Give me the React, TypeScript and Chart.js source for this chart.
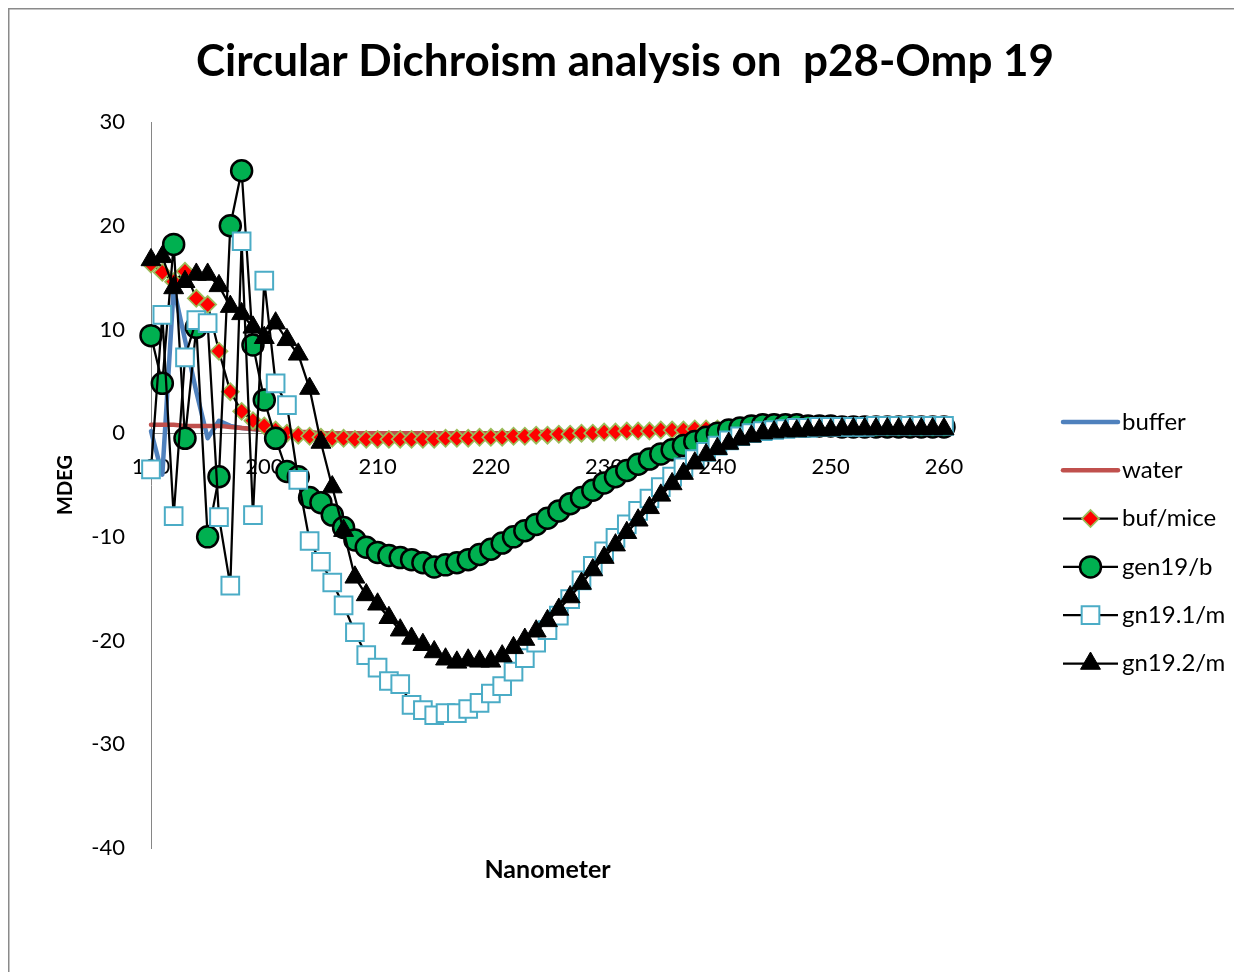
import React, { useEffect, useRef } from 'react';
import { Chart, registerables } from 'chart.js';

Chart.register(...registerables);

const wavelengths = [
  190, 191, 192, 193, 194, 195, 196, 197, 198, 199,
  200, 201, 202, 203, 204, 205, 206, 207, 208, 209,
  210, 211, 212, 213, 214, 215, 216, 217, 218, 219,
  220, 221, 222, 223, 224, 225, 226, 227, 228, 229,
  230, 231, 232, 233, 234, 235, 236, 237, 238, 239,
  240, 241, 242, 243, 244, 245, 246, 247, 248, 249,
  250, 251, 252, 253, 254, 255, 256, 257, 258, 259,
  260,
];

const buffer = [
  0.2, -4.0, 14.0, 9.0, 4.0, -0.5, 1.2, 0.7, 0.5, 0.4,
  0.3, 0.2, 0.1, 0.0, -0.1, -0.1, -0.2, -0.2, -0.2, -0.2,
  -0.2, -0.2, -0.2, -0.2, -0.2, -0.2, -0.2, -0.1, -0.1, -0.1,
  -0.1, -0.1, 0.0, 0.0, 0.0, 0.0, 0.0, 0.1, 0.1, 0.1,
  0.1, 0.1, 0.2, 0.2, 0.2, 0.2, 0.2, 0.3, 0.3, 0.3,
  0.3, 0.3, 0.3, 0.3, 0.4, 0.4, 0.4, 0.4, 0.4, 0.4,
  0.4, 0.4, 0.4, 0.4, 0.4, 0.4, 0.4, 0.4, 0.4, 0.4,
  0.4,
];

const water = [
  0.8, 0.8, 0.8, 0.7, 0.7, 0.7, 0.7, 0.6, 0.5, 0.4,
  0.3, 0.2, 0.1, 0.1, 0.1, 0.0, 0.0, 0.0, 0.0, 0.0,
  0.0, 0.0, 0.0, 0.0, 0.0, 0.0, 0.0, 0.0, 0.0, 0.0,
  0.0, 0.0, 0.0, 0.0, 0.1, 0.1, 0.1, 0.1, 0.1, 0.1,
  0.1, 0.1, 0.1, 0.1, 0.1, 0.2, 0.2, 0.2, 0.2, 0.2,
  0.2, 0.2, 0.2, 0.2, 0.2, 0.2, 0.2, 0.2, 0.2, 0.2,
  0.2, 0.2, 0.2, 0.2, 0.2, 0.2, 0.2, 0.2, 0.2, 0.2,
  0.2,
];

const bufMice = [
  16.3, 15.5, 14.6, 15.6, 13.0, 12.4, 7.9, 4.0, 2.1, 1.2,
  0.7, 0.3, 0.0, -0.2, -0.3, -0.4, -0.5, -0.5, -0.6, -0.6,
  -0.6, -0.6, -0.6, -0.6, -0.6, -0.6, -0.5, -0.5, -0.5, -0.4,
  -0.4, -0.4, -0.3, -0.3, -0.2, -0.2, -0.1, -0.1, 0.0, 0.0,
  0.1, 0.1, 0.2, 0.2, 0.2, 0.3, 0.3, 0.3, 0.4, 0.4,
  0.4, 0.4, 0.5, 0.5, 0.5, 0.5, 0.5, 0.5, 0.5, 0.5,
  0.5, 0.5, 0.5, 0.5, 0.5, 0.5, 0.5, 0.5, 0.5, 0.5,
  0.5,
];

const gen19b = [
  9.4, 4.8, 18.2, -0.5, 10.2, -10.0, -4.2, 20.0, 25.3, 8.5,
  3.2, -0.5, -3.7, -4.2, -6.2, -6.7, -7.9, -9.1, -10.3, -11.0,
  -11.5, -11.8, -12.0, -12.2, -12.5, -12.9, -12.7, -12.5, -12.2, -11.7,
  -11.2, -10.6, -10.0, -9.4, -8.8, -8.2, -7.5, -6.8, -6.2, -5.5,
  -4.8, -4.2, -3.6, -3.0, -2.5, -2.0, -1.6, -1.2, -0.8, -0.4,
  0.0, 0.3, 0.5, 0.7, 0.8, 0.8, 0.8, 0.8, 0.7, 0.7,
  0.7, 0.6, 0.6, 0.6, 0.6, 0.6, 0.6, 0.6, 0.6, 0.6,
  0.6,
];

const gn191m = [
  -3.5, 11.4, -8.0, 7.3, 10.9, 10.6, -8.1, -14.7, 18.5, -7.9,
  14.7, 4.8, 2.7, -4.5, -10.4, -12.4, -14.4, -16.6, -19.2, -21.4,
  -22.6, -23.9, -24.2, -26.2, -26.7, -27.2, -27.0, -27.0, -26.6, -26.0,
  -25.1, -24.4, -23.0, -21.7, -20.2, -19.0, -17.6, -16.0, -14.2, -12.8,
  -11.4, -10.1, -8.8, -7.5, -6.3, -5.2, -4.2, -3.3, -2.5, -1.8,
  -1.2, -0.7, -0.3, 0.0, 0.2, 0.3, 0.4, 0.5, 0.5, 0.6,
  0.6, 0.6, 0.6, 0.6, 0.7, 0.7, 0.7, 0.7, 0.7, 0.7,
  0.7,
];

const gn192m = [
  16.7, 17.0, 14.0, 14.6, 15.3, 15.3, 14.2, 12.2, 11.5, 10.2,
  9.2, 10.6, 9.0, 7.6, 4.3, -0.9, -5.2, -9.4, -13.9, -15.6,
  -16.5, -17.8, -19.0, -19.8, -20.4, -21.1, -21.8, -22.1, -21.9, -22.0,
  -22.0, -21.5, -20.7, -19.9, -19.1, -18.1, -17.0, -15.8, -14.5, -13.2,
  -12.0, -10.8, -9.6, -8.4, -7.2, -6.0, -4.9, -3.9, -2.9, -2.1,
  -1.5, -1.0, -0.6, -0.3, 0.0, 0.1, 0.2, 0.2, 0.3, 0.3,
  0.3, 0.4, 0.4, 0.4, 0.4, 0.4, 0.4, 0.4, 0.4, 0.4,
  0.4,
];

const seriesNames = ['buffer', 'water', 'buf/mice', 'gen19/b', 'gn19.1/m', 'gn19.2/m'];
const xTicks = [190, 200, 210, 220, 230, 240, 250, 260];
const yTicks = [-40, -30, -20, -10, 0, 10, 20, 30];

const FONT = 'Lato, "Open Sans", "DejaVu Sans", sans-serif';

const toPoints = (vals: number[]) => wavelengths.map((x, i) => ({ x, y: vals[i] }));

function drawMarker(ctx: CanvasRenderingContext2D, ds: any, x: number, y: number) {
  const style = ds.pointStyle;
  const r = ds.pointRadius;
  ctx.save();
  ctx.beginPath();
  if (style === 'circle') {
    ctx.arc(x, y, r, 0, Math.PI * 2);
  } else if (style === 'rect') {
    const s = Math.SQRT1_2 * r;
    ctx.rect(x - s, y - s, 2 * s, 2 * s);
  } else if (style === 'rectRot') {
    ctx.moveTo(x - r, y);
    ctx.lineTo(x, y - r);
    ctx.lineTo(x + r, y);
    ctx.lineTo(x, y + r);
    ctx.closePath();
  } else if (style === 'triangle') {
    const a = (2 * Math.PI) / 3;
    ctx.moveTo(x, y - r);
    ctx.lineTo(x + Math.sin(a) * r, y - Math.cos(a) * r);
    ctx.lineTo(x + Math.sin(2 * a) * r, y - Math.cos(2 * a) * r);
    ctx.closePath();
  }
  ctx.fillStyle = ds.pointBackgroundColor;
  ctx.fill();
  ctx.lineWidth = ds.pointBorderWidth;
  ctx.strokeStyle = ds.pointBorderColor;
  ctx.stroke();
  ctx.restore();
}

const framePlugin = {
  id: 'frame',
  beforeDraw(chart: any) {
    const { ctx, width, height } = chart;
    ctx.save();
    ctx.fillStyle = '#ffffff';
    ctx.fillRect(0, 0, width, height);
    ctx.strokeStyle = '#8a8a8a';
    ctx.lineWidth = 1.5;
    ctx.beginPath();
    ctx.moveTo(0.75, height);
    ctx.lineTo(0.75, 0.75);
    ctx.lineTo(width, 0.75);
    ctx.stroke();
    ctx.restore();
  },
};

const legendPlugin = {
  id: 'customLegend',
  afterDraw(chart: any) {
    const { ctx, chartArea } = chart;
    const x1 = chartArea.right + 119;
    const x2 = x1 + 55;
    const tx = x2 + 4;
    const y0 = 414;
    const gap = 48.3;
    ctx.save();
    chart.data.datasets.forEach((ds: any, i: number) => {
      const y = y0 + i * gap;
      ctx.beginPath();
      ctx.moveTo(x1, y);
      ctx.lineTo(x2, y);
      ctx.strokeStyle = ds.borderColor;
      ctx.lineWidth = ds.borderWidth;
      ctx.lineCap = ds.pointRadius ? 'butt' : 'round';
      ctx.stroke();
      if (ds.pointRadius) drawMarker(ctx, ds, (x1 + x2) / 2, y);
      ctx.fillStyle = '#000000';
      ctx.font = `24px ${FONT}`;
      ctx.textBaseline = 'middle';
      ctx.textAlign = 'left';
      ctx.fillText(ds.label, tx, y);
    });
    ctx.restore();
  },
};

const CW = 1234;
const CH = 964;

export default function App() {
  const canvasRef = useRef<HTMLCanvasElement | null>(null);

  useEffect(() => {
    document.documentElement.style.overflow = 'hidden';
    document.body.style.overflow = 'hidden';
    const canvas = canvasRef.current;
    if (!canvas) return;
    const lineBase = { borderColor: '#000000', borderWidth: 2.25, clip: false as any, tension: 0 };
    const chart = new Chart(canvas, {
      type: 'line',
      data: {
        datasets: [
          { label: seriesNames[0], data: toPoints(buffer), borderColor: '#4F81BD', borderWidth: 4.5, pointRadius: 0, clip: false as any, order: 5, borderCapStyle: 'round', borderJoinStyle: 'round' },
          { label: seriesNames[1], data: toPoints(water), borderColor: '#C0504D', borderWidth: 4.5, pointRadius: 0, clip: false as any, order: 4, borderCapStyle: 'round', borderJoinStyle: 'round' },
          { label: seriesNames[2], data: toPoints(bufMice), ...lineBase, pointStyle: 'rectRot', pointRadius: 8.5, pointBackgroundColor: '#FF0000', pointBorderColor: '#9BBB59', pointBorderWidth: 1.75, order: 3 },
          { label: seriesNames[3], data: toPoints(gen19b), ...lineBase, pointStyle: 'circle', pointRadius: 10.5, pointBackgroundColor: '#00B050', pointBorderColor: '#000000', pointBorderWidth: 2.5, order: 2 },
          { label: seriesNames[4], data: toPoints(gn191m), ...lineBase, pointStyle: 'rect', pointRadius: 12.5, pointBackgroundColor: '#FFFFFF', pointBorderColor: '#4BACC6', pointBorderWidth: 2, order: 1 },
          { label: seriesNames[5], data: toPoints(gn192m), ...lineBase, pointStyle: 'triangle', pointRadius: 11.5, pointBackgroundColor: '#000000', pointBorderColor: '#000000', pointBorderWidth: 1, order: 0 },
        ] as any,
      },
      options: {
        responsive: false,
        animation: false,
        devicePixelRatio: 1,
        layout: { padding: { left: 0, right: 0, top: 0, bottom: 87 } },
        plugins: {
          legend: { display: false },
          tooltip: { enabled: false },
          title: {
            display: true,
            text: 'Circular Dichroism analysis on  p28-Omp 19',
            color: '#000000',
            font: { family: FONT, size: 44, weight: 'bold' },
            padding: { top: 27.6, bottom: 33.6 },
          },
        },
        scales: {
          x: {
            type: 'linear',
            position: { y: 0 } as any,
            min: 190,
            max: 260,
            afterBuildTicks: (s: any) => { s.ticks = xTicks.map((v) => ({ value: v })); },
            ticks: { color: '#000000', font: { family: FONT, size: 22 }, padding: 21, maxRotation: 0, autoSkip: false },
            grid: { display: false, drawTicks: false },
            border: { display: true, color: '#868686', width: 1 },
          },
          x2: {
            type: 'linear',
            position: 'bottom',
            min: 190,
            max: 260,
            ticks: { display: false },
            grid: { display: false, drawTicks: false },
            border: { display: false },
            title: { display: true, text: 'Nanometer', color: '#000000', font: { family: FONT, size: 25, weight: 'bold' }, padding: { top: 7, bottom: 0 } },
          },
          y: {
            type: 'linear',
            position: 'left',
            min: -40,
            max: 30,
            afterBuildTicks: (s: any) => { s.ticks = yTicks.map((v) => ({ value: v })); },
            ticks: { color: '#000000', font: { family: FONT, size: 22 }, padding: 26 },
            grid: { display: false, drawTicks: false },
            border: { display: true, color: '#868686', width: 1 },
            title: { display: true, text: 'MDEG', color: '#000000', font: { family: FONT, size: 20, weight: 'bold' }, padding: { top: 46, bottom: 0 } },
            afterFit: (s: any) => { s.width = 143; },
          },
          y2: {
            type: 'linear',
            position: 'right',
            min: -40,
            max: 30,
            ticks: { display: false },
            grid: { display: false, drawTicks: false },
            border: { display: false },
            afterFit: (s: any) => { s.width = CW - 936; },
          },
        },
      } as any,
      plugins: [framePlugin, legendPlugin],
    });
    return () => chart.destroy();
  }, []);

  return (
    <div style={{ width: CW, height: CH, position: 'relative' }}>
      <canvas ref={canvasRef} width={CW} height={CH} style={{ display: 'block', width: CW, height: CH }} />
    </div>
  );
}
